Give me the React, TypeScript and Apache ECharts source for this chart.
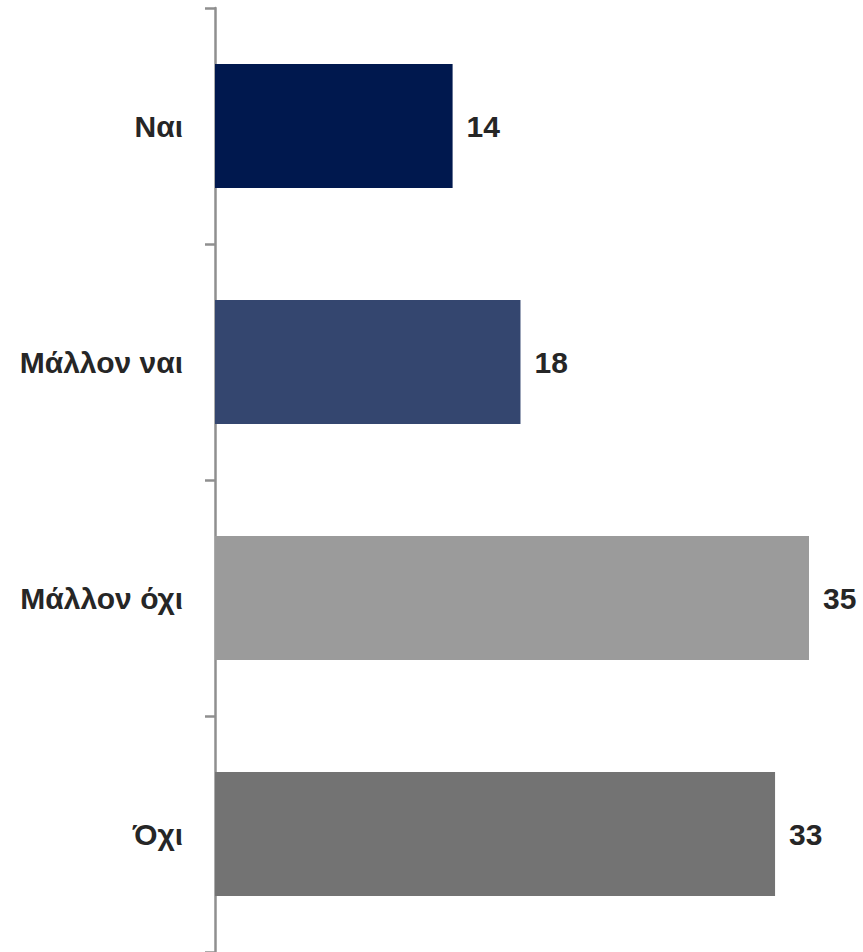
import React, { useEffect, useRef } from "react";
import * as echarts from "echarts";

const categories = ["Ναι", "Μάλλον ναι", "Μάλλον όχι", "Όχι"];
const values = [14, 18, 35, 33];
const colors = ["#00184E", "#34466F", "#9B9B9B", "#737373"];

export default function App() {
  const ref = useRef<HTMLDivElement>(null);
  useEffect(() => {
    if (!ref.current) return;
    const chart = echarts.init(ref.current, undefined, { renderer: "svg" });
    const font = "'Liberation Sans', Arial, sans-serif";
    chart.setOption({
      animation: false,
      grid: { left: 215, top: 8, right: 54, bottom: 0, containLabel: false },
      xAxis: {
        type: "value",
        min: 0,
        max: 35,
        show: false,
      },
      yAxis: {
        type: "category",
        inverse: true,
        data: categories,
        axisLine: { show: true, lineStyle: { color: "#8F8F8F", width: 2.5 } },
        axisTick: { show: true, length: 10, lineStyle: { color: "#8F8F8F", width: 2.5 } },
        axisLabel: {
          margin: 32,
          color: "#262626",
          fontFamily: font,
          fontWeight: "bold",
          fontSize: 30,
        },
      },
      series: [
        {
          type: "bar",
          data: values.map((v, i) => ({ value: v, itemStyle: { color: colors[i] } })),
          barCategoryGap: "47.5%",
          label: {
            show: true,
            position: "right",
            distance: 14,
            color: "#262626",
            fontFamily: font,
            fontWeight: "bold",
            fontSize: 30,
          },
        },
      ],
    });
    return () => chart.dispose();
  }, []);
  return (
    <div
      ref={ref}
      style={{ position: "absolute", left: 0, top: 0, width: 863, height: 952 }}
    />
  );
}
